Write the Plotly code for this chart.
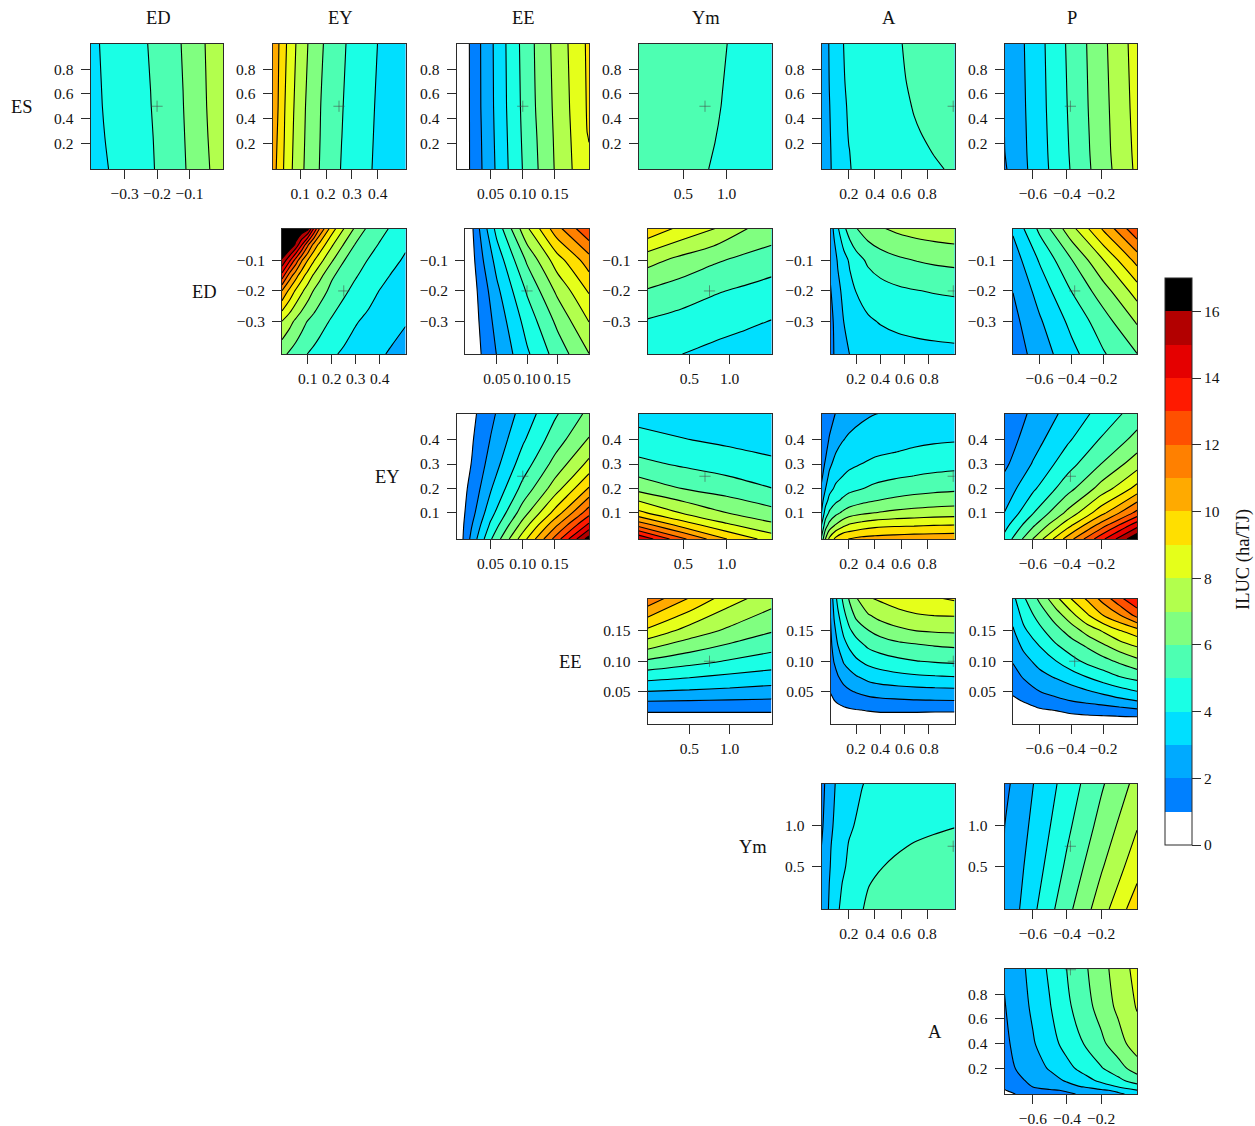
import plotly.graph_objects as go

W, H = 1255, 1126
SERIF = "Liberation Serif"

# colour bands of the legend, one per unit of ILUC
band_colors = ["#FFFFFF", "#0080FF", "#00AAFF", "#00DFFF", "#1AFFE5", "#4DFFB2", "#80FF80", "#B2FF4D",
               "#E5FF1A", "#FFDF00", "#FFAA00", "#FF8000", "#FF5000", "#FF1A00", "#E50000", "#B20000", "#000000"]

var_names_cols = ["ED", "EY", "EE", "Ym", "A", "P"]
var_names_rows = ["ES", "ED", "EY", "EE", "Ym", "A"]

ranges = {"ES": [-0.01, 1.01], "ED": [-0.405, 0.003], "EY": [-0.007, 0.507], "EE": [-0.003, 0.203],
          "Ym": [-0.02, 1.52], "A": [-0.01, 1.01], "P": [-0.766, 0.01]}
ticks = {"ES": [0.2, 0.4, 0.6, 0.8], "ED": [-0.3, -0.2, -0.1], "EY": [0.1, 0.2, 0.3, 0.4],
         "EE": [0.05, 0.10, 0.15], "Ym": [0.5, 1.0], "A": [0.2, 0.4, 0.6, 0.8], "P": [-0.6, -0.4, -0.2]}
tick_formats = {"ES": ".1f", "ED": ".1f", "EY": ".1f", "EE": ".2f", "Ym": ".1f", "A": ".1f", "P": ".1f"}
base_values = {"ES": 0.5, "ED": -0.2, "EY": 0.25, "EE": 0.1, "Ym": 0.75, "A": 1.0, "P": -0.38}

# shared node positions
y_ES = [-0.01, 0.25, 0.5, 1.01]
y_ED = [-0.405, -0.3, -0.2, -0.1, 0.003]
y_EY = [-0.007, 0.05, 0.1, 0.2, 0.3, 0.4, 0.507]
y_EE = [-0.003, 0.01, 0.02, 0.05, 0.1, 0.15, 0.203]
y_EE_fine = [-0.003, 0.01, 0.02, 0.035, 0.05, 0.075, 0.1, 0.125, 0.15, 0.175, 0.203]
y_EY_fine = [-0.007, 0.05, 0.1, 0.15, 0.2, 0.25, 0.3, 0.35, 0.4, 0.507]
y_Ym = [-0.02, 0.5, 1.0, 1.52]
x_A = [-0.01, 0.02, 0.05, 0.1, 0.15, 0.2, 0.3, 0.4, 0.55, 0.7, 0.85, 1.01]
x_P = [-0.766, -0.6, -0.4, -0.2, 0.01]
x_P_fine = [-0.766, -0.7, -0.6, -0.5, -0.4, -0.3, -0.2, -0.1, 0.01]

# ---- ES row
x_ES_ED = [-0.405, -0.37, -0.22, -0.12, -0.05, 0.003]
z_ES_ED = [[3.61, 3.86, 4.88, 5.88, 6.82, 7.6],
           [3.69, 3.94, 4.92, 5.93, 6.9, 7.68],
           [3.76, 3.99, 4.98, 5.98, 6.96, 7.75],
           [3.81, 4.05, 5.06, 6.06, 7.03, 7.8]]
x_ES_EY = [-0.007, 0.02, 0.04, 0.075, 0.12, 0.18, 0.26, 0.39, 0.507]
z_ES_EY = [[10.5, 9.56, 8.85, 7.84, 6.88, 5.9, 4.95, 3.9, 3.05],
           [10.6, 9.7, 8.95, 7.93, 6.95, 5.95, 5.01, 3.94, 3.08],
           [10.7, 9.83, 9.03, 8.02, 7.01, 5.99, 5.05, 3.98, 3.1],
           [10.8, 9.93, 9.21, 8.19, 7.17, 6.12, 5.14, 4.07, 3.14]]
x_ES_EE = [-0.003, 0.015, 0.018, 0.035, 0.055, 0.075, 0.097, 0.12, 0.146, 0.173, 0.2, 0.203]
z_ES_EE = [[0.3, 0.9, 1.03, 1.92, 2.91, 3.89, 4.9, 5.84, 6.9, 7.86, 8.85, 8.95],
           [0.3, 0.9, 1.035, 1.96, 2.97, 3.95, 4.97, 5.92, 6.95, 7.93, 8.99, 9.01],
           [0.3, 0.9, 1.04, 2.01, 3.02, 4.01, 5.03, 6.01, 7.01, 8.01, 9.05, 9.12],
           [0.3, 0.9, 1.05, 2.03, 3.05, 4.06, 5.1, 6.09, 7.1, 8.1, 9.1, 9.2]]
x_ES_Ym = [-0.02, 0.75, 0.85, 0.95, 1.05, 1.52]
y_ES_Ym = [-0.01, 0.2, 0.5, 1.01]
z_ES_Ym = [[5.55, 5.03, 4.96, 4.89, 4.82, 4.5],
           [5.6, 5.08, 5.01, 4.94, 4.87, 4.55],
           [5.65, 5.13, 5.06, 4.99, 4.92, 4.6],
           [5.7, 5.18, 5.11, 5.04, 4.97, 4.65]]
y_ES_A = [-0.01, 0.15, 0.29, 0.5, 0.71, 1.01]
z_ES_A = [[2.2, 2.55, 2.88, 3.3, 3.72, 3.97, 4.15, 4.35, 4.58, 4.78, 4.93, 5.07],
          [2.2, 2.55, 2.9, 3.33, 3.75, 3.99, 4.2, 4.4, 4.66, 4.87, 5.03, 5.18],
          [2.2, 2.57, 2.93, 3.36, 3.8, 4.04, 4.25, 4.45, 4.72, 4.95, 5.1, 5.25],
          [2.2, 2.58, 2.97, 3.38, 3.85, 4.08, 4.3, 4.5, 4.8, 5.03, 5.18, 5.3],
          [2.2, 2.6, 3.02, 3.42, 3.92, 4.13, 4.35, 4.57, 4.87, 5.09, 5.25, 5.36],
          [2.2, 2.62, 3.06, 3.46, 3.96, 4.18, 4.4, 4.62, 4.91, 5.14, 5.3, 5.42]]
x_ES_P = [-0.766, -0.75, -0.64, -0.52, -0.395, -0.27, -0.15, -0.03, 0.01]
y_ES_P = [-0.01, 0.13, 0.5, 1.01]
z_ES_P = [[1.93, 2.01, 2.92, 3.9, 4.9, 5.92, 6.89, 7.87, 8.2],
          [1.99, 2.06, 2.96, 3.94, 4.95, 5.97, 6.95, 7.92, 8.25],
          [2.02, 2.14, 3.02, 4.01, 5.03, 6.05, 7.02, 8.01, 8.33],
          [2.05, 2.18, 3.08, 4.07, 5.11, 6.12, 7.11, 8.1, 8.42]]

# ---- ED row
x_ED_EY = [-0.007, 0.025, 0.05, 0.075, 0.1, 0.125, 0.15, 0.2, 0.25, 0.3, 0.35, 0.4, 0.45, 0.507]
y_ED_EY = [-0.405, -0.3, -0.2, -0.15, -0.1, -0.05, 0.003]
z_ED_EY = [[6.25, 5.85, 5.56, 5.25, 4.98, 4.78, 4.57, 4.15, 3.85, 3.61, 3.37, 3.12, 2.88, 2.6],
           [7.95, 7.3, 6.79, 6.35, 5.94, 5.66, 5.38, 4.87, 4.47, 4.06, 3.8, 3.57, 3.33, 3.07],
           [10.95, 9.71, 8.86, 8.17, 7.54, 6.94, 6.46, 5.72, 5.17, 4.73, 4.34, 3.97, 3.74, 3.48],
           [13.6, 11.5, 10.4, 9.4, 8.6, 7.87, 7.3, 6.14, 5.6, 5.07, 4.67, 4.28, 3.94, 3.68],
           [15.9, 14.2, 12.65, 11.12, 10.01, 9.1, 8.35, 7.13, 6.04, 5.5, 4.98, 4.6, 4.23, 3.88],
           [16.9, 16.9, 15.8, 14.07, 12.2, 10.7, 9.7, 8.14, 6.95, 5.9, 5.4, 4.92, 4.54, 4.12],
           [16.9, 16.9, 16.9, 16.9, 16.4, 14.0, 11.93, 9.5, 8.02, 6.8, 5.83, 5.33, 4.87, 4.45]]
x_ED_EE = [-0.003, 0.01, 0.02, 0.05, 0.1, 0.15, 0.203]
z_ED_EE = [[0.1, 0.43, 0.85, 2.04, 3.85, 5.42, 6.98],
           [0.2, 0.5, 0.99, 2.35, 4.39, 6.2, 8.01],
           [0.25, 0.6, 1.15, 2.77, 5.11, 7.2, 9.1],
           [0.3, 0.75, 1.55, 3.38, 6.15, 8.54, 10.55],
           [0.4, 0.98, 1.93, 4.35, 7.83, 10.67, 12.9]]
x_ED_Ym = [-0.02, 0.4, 0.8, 1.2, 1.52]
z_ED_Ym = [[4.26, 4.01, 3.74, 3.5, 3.3],
           [4.91, 4.66, 4.42, 4.17, 3.96],
           [5.89, 5.48, 5.1, 4.83, 4.63],
           [7.37, 6.69, 6.15, 5.73, 5.44],
           [9.75, 8.74, 8.05, 7.03, 6.63]]
z_ED_A = [[1.5, 2.05, 2.37, 2.78, 3.02, 3.18, 3.39, 3.51, 3.62, 3.69, 3.74, 3.78],
          [1.7, 2.1, 2.42, 3.01, 3.35, 3.59, 3.88, 4.05, 4.22, 4.32, 4.39, 4.44],
          [1.95, 2.3, 2.75, 3.26, 3.71, 4.02, 4.4, 4.63, 4.84, 4.97, 5.06, 5.13],
          [2.2, 2.6, 3.1, 3.65, 4.15, 4.6, 5.18, 5.52, 5.84, 6.04, 6.18, 6.28],
          [2.5, 3.2, 3.9, 4.8, 5.48, 5.95, 6.55, 6.91, 7.23, 7.44, 7.58, 7.69]]
z_ED_P = [[1.45, 2.47, 3.7, 4.91, 5.98],
          [1.69, 2.87, 4.26, 5.56, 7.1],
          [2.02, 3.39, 5.02, 6.57, 8.45],
          [2.47, 4.09, 5.95, 7.98, 10.35],
          [3.16, 5.22, 7.68, 10.16, 12.83]]

# ---- EY row
x_EY_EE = [-0.003, 0.005, 0.02, 0.05, 0.1, 0.15, 0.203]
z_EY_EE = [[0.3, 0.8, 2.24, 4.88, 8.54, 12.29, 16.5],
           [0.5, 0.75, 1.9, 4.18, 7.39, 10.72, 14.27],
           [0.4, 0.7, 1.6, 3.63, 6.51, 9.35, 12.6],
           [0.3, 0.65, 1.25, 2.9, 5.31, 7.48, 10.1],
           [0.25, 0.55, 1.01, 2.39, 4.47, 6.33, 8.28],
           [0.2, 0.5, 0.87, 2.04, 3.86, 5.49, 7.08],
           [0.2, 0.45, 0.72, 1.75, 3.37, 4.85, 6.25]]
x_EY_Ym = [-0.02, 0.5, 1.0, 1.52]
z_EY_Ym = [[14.9, 12.15, 10.01, 8.54],
           [11.67, 9.55, 8.17, 7.23],
           [9.25, 7.91, 7.01, 6.33],
           [6.66, 5.97, 5.52, 5.02],
           [5.26, 4.85, 4.53, 4.22],
           [4.36, 4.04, 3.8, 3.55],
           [3.6, 3.4, 3.2, 3.05]]
z_EY_A = [[5.2, 7.01, 8.2, 9.3, 9.9, 10.01, 10.3, 10.4, 10.5, 10.6, 10.63, 10.67],
          [4.01, 5.5, 6.31, 7.09, 7.67, 8.1, 8.45, 8.68, 8.82, 8.87, 8.96, 9.01],
          [3.01, 4.43, 5.14, 5.74, 6.14, 6.48, 6.81, 7.01, 7.23, 7.38, 7.48, 7.55],
          [2.6, 3.6, 4.29, 4.84, 5.15, 5.44, 5.76, 5.98, 6.2, 6.37, 6.49, 6.58],
          [2.18, 2.96, 3.68, 4.19, 4.52, 4.73, 4.97, 5.22, 5.47, 5.63, 5.74, 5.82],
          [1.8, 2.54, 3.19, 3.73, 3.99, 4.2, 4.49, 4.68, 4.87, 5.02, 5.13, 5.21],
          [1.55, 2.13, 2.78, 3.35, 3.63, 3.8, 4.01, 4.21, 4.42, 4.57, 4.67, 4.74],
          [1.35, 1.8, 2.43, 2.97, 3.28, 3.48, 3.7, 3.85, 3.98, 4.12, 4.24, 4.33],
          [1.2, 1.55, 2.08, 2.6, 2.94, 3.16, 3.4, 3.57, 3.72, 3.8, 3.87, 3.92],
          [1.05, 1.2, 1.5, 2.05, 2.3, 2.5, 2.8, 2.98, 3.1, 3.2, 3.25, 3.3]]
z_EY_P = [[4.3, 7.01, 10.37, 13.67, 16.9],
          [3.65, 5.81, 8.53, 11.43, 14.6],
          [3.02, 4.94, 7.2, 9.64, 12.32],
          [2.41, 3.81, 5.58, 7.38, 9.34],
          [1.8, 3.07, 4.56, 6.01, 7.56],
          [1.45, 2.58, 3.83, 5.08, 6.33],
          [1.2, 2.2, 3.27, 4.35, 5.45]]

# ---- EE row
x_EE_Ym = [-0.02, 0.5, 1.0, 1.52]
z_EE_Ym = [[0.3, 0.3, 0.3, 0.3],
           [0.84, 0.84, 0.84, 0.84],
           [1.1, 1.1, 1.1, 1.1],
           [2.97, 2.85, 2.73, 2.6],
           [5.84, 5.35, 4.91, 4.55],
           [8.78, 7.58, 6.78, 6.08],
           [11.7, 9.93, 8.42, 7.43]]
z_EE_A = [[0.3, 0.3, 0.3, 0.3, 0.3, 0.3, 0.3, 0.3, 0.3, 0.3, 0.3, 0.3],
          [0.4, 0.55, 0.7, 0.75, 0.78, 0.8, 0.82, 0.84, 0.84, 0.84, 0.84, 0.84],
          [0.5, 0.65, 0.75, 0.85, 0.92, 0.97, 1.04, 1.1, 1.1, 1.1, 1.08, 1.08],
          [0.75, 0.98, 1.11, 1.27, 1.4, 1.51, 1.7, 1.8, 1.87, 1.93, 1.95, 1.97],
          [1.05, 1.23, 1.42, 1.68, 1.9, 2.06, 2.31, 2.45, 2.55, 2.62, 2.66, 2.7],
          [1.35, 1.64, 1.94, 2.4, 2.7, 2.94, 3.33, 3.55, 3.74, 3.87, 3.95, 4.01],
          [1.6, 2.05, 2.46, 3.1, 3.46, 3.83, 4.29, 4.53, 4.8, 4.98, 5.08, 5.16],
          [1.75, 2.4, 2.97, 3.68, 4.18, 4.57, 5.13, 5.44, 5.71, 5.85, 6.01, 6.1],
          [1.87, 2.75, 3.39, 4.23, 4.89, 5.33, 5.96, 6.36, 6.76, 7.01, 7.1, 7.15],
          [2.02, 3.1, 3.8, 4.76, 5.52, 6.2, 6.9, 7.33, 7.72, 7.92, 8.01, 8.04],
          [2.2, 3.5, 4.27, 5.3, 6.2, 6.9, 7.9, 8.15, 8.45, 8.65, 8.9, 9.15]]
z_EE_P = [[0.2, 0.3, 0.4, 0.47, 0.55, 0.62, 0.7, 0.75, 0.8],
          [0.3, 0.45, 0.65, 0.75, 0.88, 0.93, 0.97, 1.01, 1.02],
          [0.45, 0.62, 0.9, 1.03, 1.2, 1.35, 1.48, 1.65, 1.86],
          [0.85, 1.05, 1.44, 1.76, 2.01, 2.24, 2.46, 2.72, 3.01],
          [1.12, 1.45, 1.98, 2.29, 2.56, 2.88, 3.22, 3.59, 3.96],
          [1.6, 2.1, 2.7, 3.1, 3.56, 4.06, 4.55, 5.01, 5.36],
          [2.07, 2.65, 3.33, 3.96, 4.65, 5.25, 5.66, 6.17, 6.73],
          [2.48, 3.2, 4.01, 4.85, 5.53, 6.11, 6.83, 7.49, 8.06],
          [2.89, 3.8, 4.72, 5.63, 6.45, 7.39, 8.12, 8.93, 9.57],
          [3.3, 4.3, 5.4, 6.45, 7.67, 8.87, 10.0, 10.9, 12.3],
          [3.75, 4.85, 6.2, 7.7, 9.05, 10.18, 11.42, 12.75, 13.9]]

# ---- Ym row
y_Ym_A = [-0.02, 0.25, 0.5, 0.75, 1.0, 1.52]
z_Ym_A = [[2.1, 2.6, 3.12, 3.78, 4.2, 4.55, 4.98, 5.17, 5.33, 5.44, 5.53, 5.6],
          [2.08, 2.55, 3.02, 3.6, 4.05, 4.4, 4.89, 5.1, 5.28, 5.4, 5.5, 5.56],
          [2.05, 2.45, 2.93, 3.42, 3.85, 4.15, 4.6, 4.9, 5.13, 5.28, 5.38, 5.47],
          [2.01, 2.4, 2.88, 3.32, 3.73, 4.05, 4.38, 4.6, 4.88, 5.06, 5.18, 5.28],
          [1.85, 2.25, 2.75, 3.2, 3.58, 3.88, 4.2, 4.42, 4.62, 4.76, 4.87, 4.97],
          [1.65, 2.08, 2.55, 3.05, 3.3, 3.55, 3.97, 4.2, 4.35, 4.5, 4.6, 4.7]]
z_Ym_P = [[2.12, 3.77, 5.69, 7.54, 9.6],
          [2.05, 3.44, 5.18, 6.88, 8.6],
          [1.99, 3.18, 4.78, 6.33, 7.93],
          [1.75, 2.97, 4.42, 5.86, 7.3]]

# ---- A row
y_A_P = [-0.01, 0.02, 0.05, 0.1, 0.2, 0.4, 0.7, 1.01]
z_A_P = [[0.75, 1.01, 1.3, 1.55, 1.9, 2.1, 2.4, 2.85, 3.3],
         [0.95, 1.3, 1.62, 1.9, 2.08, 2.33, 2.85, 3.2, 3.97],
         [1.1, 1.55, 2.03, 2.36, 2.7, 3.07, 3.58, 4.05, 4.62],
         [1.25, 1.75, 2.22, 2.64, 3.11, 3.65, 4.2, 4.75, 5.48],
         [1.5, 2.03, 2.56, 3.1, 3.73, 4.33, 4.93, 5.6, 6.5],
         [1.75, 2.26, 2.9, 3.62, 4.35, 5.03, 5.77, 6.58, 7.55],
         [1.95, 2.41, 3.17, 3.95, 4.8, 5.58, 6.4, 7.22, 8.07],
         [2.1, 2.55, 3.35, 4.18, 5.02, 5.82, 6.64, 7.44, 8.35]]

panels = [
    ("ES", "ED", x_ES_ED, y_ES, z_ES_ED), ("ES", "EY", x_ES_EY, y_ES, z_ES_EY), ("ES", "EE", x_ES_EE, y_ES, z_ES_EE),
    ("ES", "Ym", x_ES_Ym, y_ES_Ym, z_ES_Ym), ("ES", "A", x_A, y_ES_A, z_ES_A), ("ES", "P", x_ES_P, y_ES_P, z_ES_P),
    ("ED", "EY", x_ED_EY, y_ED_EY, z_ED_EY), ("ED", "EE", x_ED_EE, y_ED, z_ED_EE), ("ED", "Ym", x_ED_Ym, y_ED, z_ED_Ym),
    ("ED", "A", x_A, y_ED, z_ED_A), ("ED", "P", x_P, y_ED, z_ED_P),
    ("EY", "EE", x_EY_EE, y_EY, z_EY_EE), ("EY", "Ym", x_EY_Ym, y_EY, z_EY_Ym), ("EY", "A", x_A, y_EY_fine, z_EY_A),
    ("EY", "P", x_P, y_EY, z_EY_P),
    ("EE", "Ym", x_EE_Ym, y_EE, z_EE_Ym), ("EE", "A", x_A, y_EE_fine, z_EE_A), ("EE", "P", x_P_fine, y_EE_fine, z_EE_P),
    ("Ym", "A", x_A, y_Ym_A, z_Ym_A), ("Ym", "P", x_P, y_Ym, z_Ym_P),
    ("A", "P", x_P_fine, y_A_P, z_A_P),
]

# layout in pixels
row_top = {"ES": 43.5, "ED": 228.5, "EY": 413.5, "EE": 598.5, "Ym": 783.5, "A": 968.5}
PANEL_H = 125.5
col_left = {"ED": 90.5, "EY": 272.5, "EE": 456.5, "Ym": 638.5, "A": 821.5, "P": 1004.5}
col_left_narrow = {"EY": 282, "EE": 465, "Ym": 647.5, "A": 830.5, "P": 1013}
col_right = {"ED": 223, "EY": 405.5, "EE": 589, "Ym": 771.5, "A": 954.5, "P": 1137}
narrow_rows = {"ED", "EE"}

colorscale = []
n_bands = len(band_colors)
for i, c in enumerate(band_colors):
    colorscale.append([i / n_bands, c])
    colorscale.append([(i + 1) / n_bands, c])

INK = "#2b2b2b"
fig = go.Figure()
layout_axes = {}
for k, (rv, cv, xs, ys, z) in enumerate(panels):
    n = k + 1
    ax = "x" if n == 1 else f"x{n}"
    ay = "y" if n == 1 else f"y{n}"
    left = col_left_narrow[cv] if rv in narrow_rows else col_left[cv]
    right = col_right[cv]
    top = row_top[rv]
    common = dict(showgrid=False, zeroline=False, showline=True, mirror=True, linecolor=INK, linewidth=1,
                  ticks="outside", ticklen=9, tickwidth=1, tickcolor=INK,
                  tickfont=dict(family=SERIF, size=15.5, color="#111111"))
    layout_axes[("xaxis" if n == 1 else f"xaxis{n}")] = dict(
        domain=[left / W, right / W], range=ranges[cv], anchor=ay, tickvals=ticks[cv],
        tickformat=tick_formats[cv], ticklabelstandoff=1, **common)
    layout_axes[("yaxis" if n == 1 else f"yaxis{n}")] = dict(
        domain=[1 - (top + PANEL_H) / H, 1 - top / H], range=ranges[rv], anchor=ax, tickvals=ticks[rv],
        tickformat=tick_formats[rv], ticklabelstandoff=4, **common)
    cont = dict(start=0, end=17, size=1, coloring="fill", showlines=True)
    if k == 0:
        # fill-only copy of the first panel carries the legend bar (no black lines in the bar)
        fig.add_trace(go.Contour(
            x=xs, y=ys, z=z, xaxis=ax, yaxis=ay, autocontour=False, zauto=False, zmin=0, zmax=17,
            contours=dict(start=0, end=17, size=1, coloring="fill", showlines=False), line=dict(width=0),
            colorscale=colorscale, hoverinfo="skip", showscale=True,
            colorbar=dict(x=1165 / W, xanchor="left", xpad=0, y=1 - 845 / H, yanchor="bottom", ypad=0,
                          lenmode="pixels", len=567, thicknessmode="pixels", thickness=27,
                          tick0=0, dtick=2, ticks="outside", ticklen=9, tickwidth=1, tickcolor=INK,
                          tickfont=dict(family=SERIF, size=15.5, color="#111111"),
                          outlinecolor=INK, outlinewidth=1, borderwidth=0)))
    fig.add_trace(go.Contour(
        x=xs, y=ys, z=z, xaxis=ax, yaxis=ay, autocontour=False, zauto=False, zmin=0, zmax=17,
        contours=cont, line=dict(color="black", width=1.1, smoothing=0.85),
        colorscale=colorscale, showscale=False))
    fig.add_trace(go.Scatter(
        x=[base_values[cv]], y=[base_values[rv]], xaxis=ax, yaxis=ay, mode="markers", hoverinfo="skip",
        marker=dict(symbol="cross-thin", size=8, line=dict(width=1, color="rgba(70,70,70,0.55)"))))

annotations = []
col_center = {"ED": 158, "EY": 340.5, "EE": 523.5, "Ym": 706, "A": 889, "P": 1072}
label_font = dict(family=SERIF, size=18.5, color="#111111")
for name in var_names_cols:
    annotations.append(dict(text=name, x=col_center[name] / W, y=1 - 18 / H, xref="paper", yref="paper",
                            xanchor="center", yanchor="middle", showarrow=False, font=label_font))
row_label_x = {"ES": 22, "ED": 204, "EY": 387, "EE": 570, "Ym": 753, "A": 935}
for name in var_names_rows:
    annotations.append(dict(text=name, x=row_label_x[name] / W, y=1 - (row_top[name] + 63) / H,
                            xref="paper", yref="paper", xanchor="center", yanchor="middle",
                            showarrow=False, font=label_font))
annotations.append(dict(text="ILUC (ha/TJ)", x=1243 / W, y=1 - 560 / H, xref="paper", yref="paper",
                        xanchor="center", yanchor="middle", showarrow=False, textangle=-90, font=label_font))

fig.update_layout(width=W, height=H, autosize=False, margin=dict(l=0, r=0, t=0, b=0),
                  paper_bgcolor="white", plot_bgcolor="white", showlegend=False,
                  annotations=annotations, **layout_axes)
fig.write_html("out.html", post_script="document.body.style.margin='0';",
               config={"displayModeBar": False})
